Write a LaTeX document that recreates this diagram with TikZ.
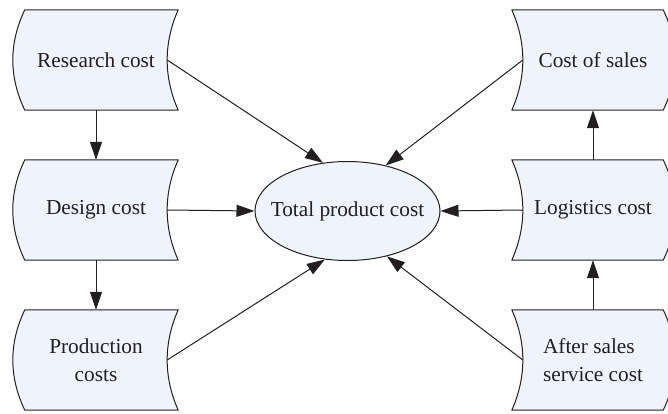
\documentclass[tikz,border=0pt]{standalone}
\usepackage{fontspec}
\setmainfont{Liberation Serif}
\usetikzlibrary{arrows.meta,shapes.geometric,backgrounds,calc}
\definecolor{boxfill}{RGB}{239,243,252}
\definecolor{inkc}{RGB}{35,31,32}

\newcommand{\LBoxShape}[1]{%
  \begin{scope}[on background layer]
    \draw[boxline] (#1.north west) -- ($(#1.north east)+(11,0)$)
      .. controls ($(#1.north east)+(-3.7,33.3)$) and ($(#1.south east)+(-3.7,-33.3)$) .. ($(#1.south east)+(11,0)$)
      -- (#1.south west)
      .. controls ($(#1.south west)+(-16,-33.3)$) and ($(#1.north west)+(-16,33.3)$) .. cycle;
  \end{scope}}
\newcommand{\RBoxShape}[1]{%
  \begin{scope}[on background layer]
    \draw[boxline] ($(#1.north west)+(-11,0)$) -- (#1.north east)
      .. controls ($(#1.north east)+(16,33.3)$) and ($(#1.south east)+(16,-33.3)$) .. (#1.south east)
      -- ($(#1.south west)+(-11,0)$)
      .. controls ($(#1.south west)+(3.7,-33.3)$) and ($(#1.north west)+(3.7,33.3)$) .. cycle;
  \end{scope}}

\begin{document}
\begin{tikzpicture}[x=1pt,y=-1pt,
  boxtext/.style={minimum height=100pt, inner sep=0pt, text=inkc,
    font=\fontsize{21.3}{27.5}\selectfont, align=center},
  lefttext/.style={boxtext, minimum width=142pt},
  righttext/.style={boxtext, minimum width=140pt},
  boxline/.style={draw=inkc, line width=1pt, fill=boxfill, line join=round},
  conn/.style={draw=inkc, line width=1pt, -{Triangle[length=18pt,width=12pt]}},
  ell/.style={ellipse, draw=inkc, line width=1pt, fill=boxfill, text=inkc,
    minimum width=185pt, minimum height=99pt, inner sep=0pt,
    font=\fontsize{21.3}{25}\selectfont}
]
\useasboundingbox (0,0) rectangle (668,414);

\node[lefttext] (research) at (96,60) {Research cost};
\node[lefttext] (design) at (96,210) {Design cost};
\node[lefttext] (production) at (96,360) {Production\\costs};
\node[righttext] (sales) at (593,60) {Cost of sales};
\node[righttext] (logistics) at (593,210) {Logistics cost};
\node[righttext, align=left] (after) at (593,360) {After sales\\service cost};
\node[ell] (total) at (347.5,211) {\makebox[0pt]{Total product cost}};

\LBoxShape{research}
\LBoxShape{design}
\LBoxShape{production}
\RBoxShape{sales}
\RBoxShape{logistics}
\RBoxShape{after}

\draw[conn] (research.south) -- (design.north);
\draw[conn] (design.south) -- (production.north);
\draw[conn] (after.north) -- (logistics.south);
\draw[conn] (logistics.north) -- (sales.south);

\draw[conn] (research.east) -- (total.117);
\draw[conn] (sales.west) -- (total.50);
\draw[conn] (design.east) -- (total.west);
\draw[conn] (logistics.west) -- (total.east);
\draw[conn] (production.east) -- (total.245);
\draw[conn] (after.west) -- (total.311);
\end{tikzpicture}
\end{document}
